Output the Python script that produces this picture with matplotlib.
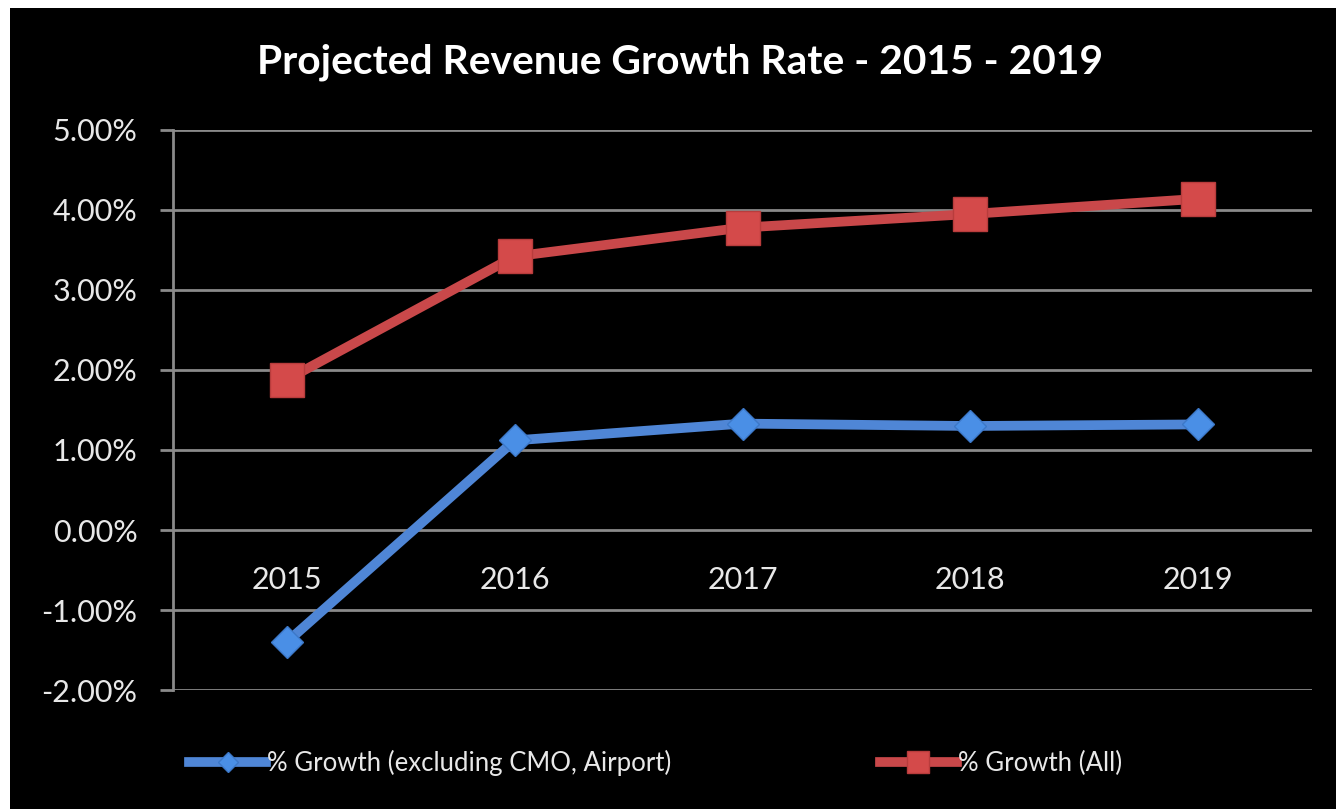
import matplotlib.pyplot as plt
from matplotlib.patches import Rectangle
from matplotlib.lines import Line2D

# datos
years = ["2015", "2016", "2017", "2018", "2019"]
growth_excl = [-1.40, 1.12, 1.33, 1.30, 1.32]
growth_all = [1.88, 3.42, 3.78, 3.95, 4.14]
y_ticks = [-2, -1, 0, 1, 2, 3, 4, 5]

blue = "#4f86d6"
red = "#c9484a"
grid = "#8a8a8a"

plt.rcParams['font.family'] = ['Lato', 'DejaVu Sans']

fig = plt.figure(figsize=(13.36, 8.09), dpi=100, facecolor="white")
# fondo negro con borde blanco arriba e izquierda
fig.patches.append(Rectangle((10 / 1336, 0), 1, 1 - 8 / 809, transform=fig.transFigure,
                             facecolor="black", edgecolor="none", zorder=-1))

ax = fig.add_axes([173 / 1336, 1 - 690 / 809, (1312 - 173) / 1336, (690 - 130) / 809])
ax.set_facecolor("black")

x = list(range(len(years)))
ax.plot(x, growth_excl, color=blue, lw=7, marker="D", markersize=16,
        markerfacecolor="#4a8fe6", markeredgecolor="#3c78c8", markeredgewidth=1, zorder=3)
ax.plot(x, growth_all, color=red, lw=7, marker="s", markersize=24,
        markerfacecolor="#d44a4a", markeredgecolor="#b83c3c", markeredgewidth=1, zorder=3)

ax.set_xlim(-0.5, 4.5)
ax.set_ylim(-2, 5)
ax.set_yticks(y_ticks)
ax.set_yticklabels([f"{v:.2f}%" for v in y_ticks])
ax.yaxis.grid(True, color=grid, lw=2)
ax.set_axisbelow(True)

ax.set_xticks(x)
ax.set_xticklabels(years)
ax.spines['bottom'].set_position(('data', 0))
ax.spines['bottom'].set_visible(False)
ax.spines['top'].set_visible(False)
ax.spines['right'].set_visible(False)
ax.spines['left'].set_color(grid)
ax.spines['left'].set_linewidth(2)
ax.tick_params(axis='x', length=0, pad=26, colors="white", labelsize=22)
ax.tick_params(axis='y', length=9.5, width=2, color=grid, colors="white", labelsize=22, pad=16)
for lbl in ax.get_yticklabels() + ax.get_xticklabels():
    lbl.set_color("#e8e8e8")

fig.text(680 / 1336, 1 - 62 / 809, "Projected Revenue Growth Rate - 2015 - 2019",
         ha="center", va="center", color="white", fontsize=29.3, fontweight="bold")

handles = [
    Line2D([], [], color=blue, lw=7, marker="D", markersize=10,
           markerfacecolor="#4a8fe6", markeredgecolor="#3c78c8"),
    Line2D([], [], color=red, lw=7, marker="s", markersize=16,
           markerfacecolor="#d44a4a", markeredgecolor="#b83c3c"),
]
leg = fig.legend(handles, ["% Growth (excluding CMO, Airport)", "% Growth (All)"],
                 loc="center left", bbox_to_anchor=(189 / 1336, 1 - 763 / 809), ncol=2,
                 frameon=False, fontsize=18.5, handlelength=3.0, handletextpad=0.05,
                 columnspacing=8.1, borderpad=0, borderaxespad=0)
for t in leg.get_texts():
    t.set_color("#e8e8e8")

fig.savefig("out.png", dpi=100, facecolor=fig.get_facecolor())
